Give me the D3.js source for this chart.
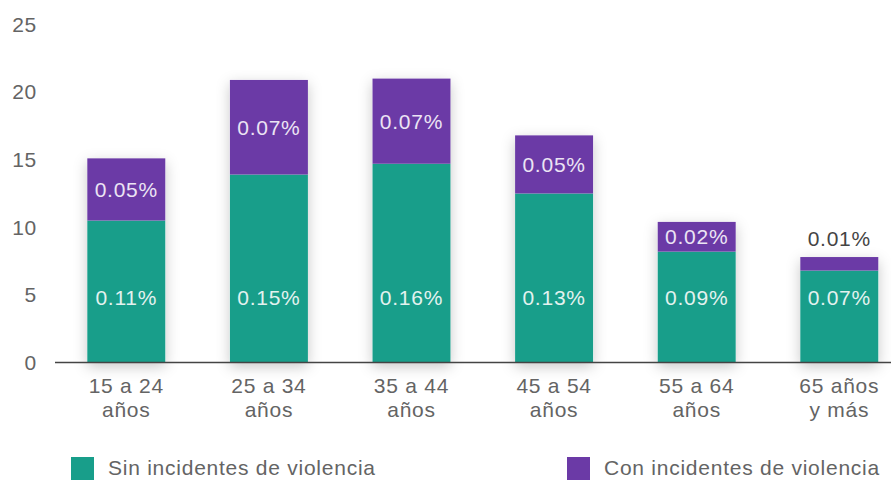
<!DOCTYPE html>
<html>
<head>
<meta charset="utf-8">
<script src="https://cdn.jsdelivr.net/npm/d3@7"></script>
<style>
  body { margin: 0; background: #fff; }
  svg text { font-family: "Liberation Sans", Arial, sans-serif; letter-spacing: 0.75px; }
</style>
</head>
<body>
<div id="chart"></div>
<script>
// data
let categories = [["15 a 24", "años"], ["25 a 34", "años"], ["35 a 44", "años"], ["45 a 54", "años"], ["55 a 64", "años"], ["65 años", "y más"]];
let sinValues = [10.5, 13.9, 14.7, 12.5, 8.2, 6.8];
let conValues = [4.6, 7.0, 6.3, 4.3, 2.2, 1.0];
let sinLabels = ["0.11%", "0.15%", "0.16%", "0.13%", "0.09%", "0.07%"];
let conLabels = ["0.05%", "0.07%", "0.07%", "0.05%", "0.02%", "0.01%"];
let yTicks = [0, 5, 10, 15, 20, 25];
let seriesNames = ["Sin incidentes de violencia", "Con incidentes de violencia"];

let width = 891, height = 480;
let colors = ["#189e8a", "#6b3aa6"];
let textColor = "#646464";
let fontSize = "21px";

let svg = d3.select("#chart").append("svg")
    .attr("width", width)
    .attr("height", height);

let defs = svg.append("defs");
let filter = defs.append("filter").attr("id", "shadow")
    .attr("x", "-40%").attr("y", "-20%").attr("width", "180%").attr("height", "140%");
filter.append("feDropShadow")
    .attr("dx", 0).attr("dy", 4).attr("stdDeviation", 7)
    .attr("flood-color", "#000").attr("flood-opacity", 0.22);

let x = d3.scaleBand()
    .domain(d3.range(categories.length))
    .range([55, 55 + 6 * 142.6])
    .paddingInner(0.453)
    .paddingOuter(0.2265);

let y = d3.scaleLinear()
    .domain([0, 25])
    .range([362.5, 24.5]);

// y tick labels
svg.append("g").selectAll("text")
    .data(yTicks)
    .enter().append("text")
    .attr("x", 37)
    .attr("y", function(d){ return y(d); })
    .attr("dy", "0.35em")
    .attr("text-anchor", "end")
    .attr("fill", textColor)
    .style("font-size", fontSize)
    .text(function(d){ return d; });

// bars
let bars = svg.append("g").selectAll(".bar")
    .data(categories)
    .enter().append("g")
    .attr("class", "bar");

bars.append("rect")
    .attr("x", function(d, i){ return x(i); })
    .attr("width", x.bandwidth())
    .attr("y", function(d, i){ return y(sinValues[i] + conValues[i]); })
    .attr("height", function(d, i){ return y(0) - y(sinValues[i] + conValues[i]); })
    .attr("fill", "#fff")
    .attr("filter", "url(#shadow)");

bars.append("rect")
    .attr("x", function(d, i){ return x(i); })
    .attr("width", x.bandwidth())
    .attr("y", function(d, i){ return y(sinValues[i]); })
    .attr("height", function(d, i){ return y(0) - y(sinValues[i]); })
    .attr("fill", colors[0]);

bars.append("rect")
    .attr("x", function(d, i){ return x(i); })
    .attr("width", x.bandwidth())
    .attr("y", function(d, i){ return y(sinValues[i] + conValues[i]); })
    .attr("height", function(d, i){ return y(sinValues[i]) - y(sinValues[i] + conValues[i]); })
    .attr("fill", colors[1]);

// value labels
bars.append("text")
    .attr("x", function(d, i){ return x(i) + x.bandwidth() / 2; })
    .attr("y", y(4.8))
    .attr("dy", "0.35em")
    .attr("text-anchor", "middle")
    .attr("fill", "#e3f2ef")
    .style("font-size", fontSize)
    .text(function(d, i){ return sinLabels[i]; });

bars.append("text")
    .attr("x", function(d, i){ return x(i) + x.bandwidth() / 2; })
    .attr("y", function(d, i){
        if(conValues[i] < 2) return y(sinValues[i] + conValues[i]) - 18;
        return (y(sinValues[i]) + y(sinValues[i] + conValues[i])) / 2;
    })
    .attr("dy", "0.35em")
    .attr("text-anchor", "middle")
    .attr("fill", function(d, i){ return conValues[i] < 2 ? "#444" : "#ebe4f4"; })
    .style("font-size", fontSize)
    .text(function(d, i){ return conLabels[i]; });

// x axis line
svg.append("line")
    .attr("x1", 55).attr("x2", width)
    .attr("y1", y(0)).attr("y2", y(0))
    .attr("stroke", "#444")
    .attr("stroke-width", 1.5);

// category labels
let catLabels = svg.append("g").selectAll("text")
    .data(categories)
    .enter().append("text")
    .attr("x", function(d, i){ return x(i) + x.bandwidth() / 2; })
    .attr("y", 386)
    .attr("text-anchor", "middle")
    .attr("fill", textColor)
    .style("font-size", fontSize);

catLabels.append("tspan")
    .attr("x", function(d, i){ return x(i) + x.bandwidth() / 2; })
    .attr("dy", "0.35em")
    .text(function(d){ return d[0]; });
catLabels.append("tspan")
    .attr("x", function(d, i){ return x(i) + x.bandwidth() / 2; })
    .attr("dy", 24)
    .text(function(d){ return d[1]; });

// legend
let legendX = [71, 567];
let legend = svg.append("g").selectAll(".legend")
    .data(seriesNames)
    .enter().append("g")
    .attr("class", "legend")
    .attr("transform", function(d, i){ return "translate(" + legendX[i] + ",457)"; });

legend.append("rect")
    .attr("width", 23).attr("height", 23)
    .attr("fill", function(d, i){ return colors[i]; });

legend.append("text")
    .attr("x", 37)
    .attr("y", 11)
    .attr("dy", "0.35em")
    .attr("fill", textColor)
    .style("font-size", fontSize)
    .text(function(d){ return d; });
</script>
</body>
</html>
